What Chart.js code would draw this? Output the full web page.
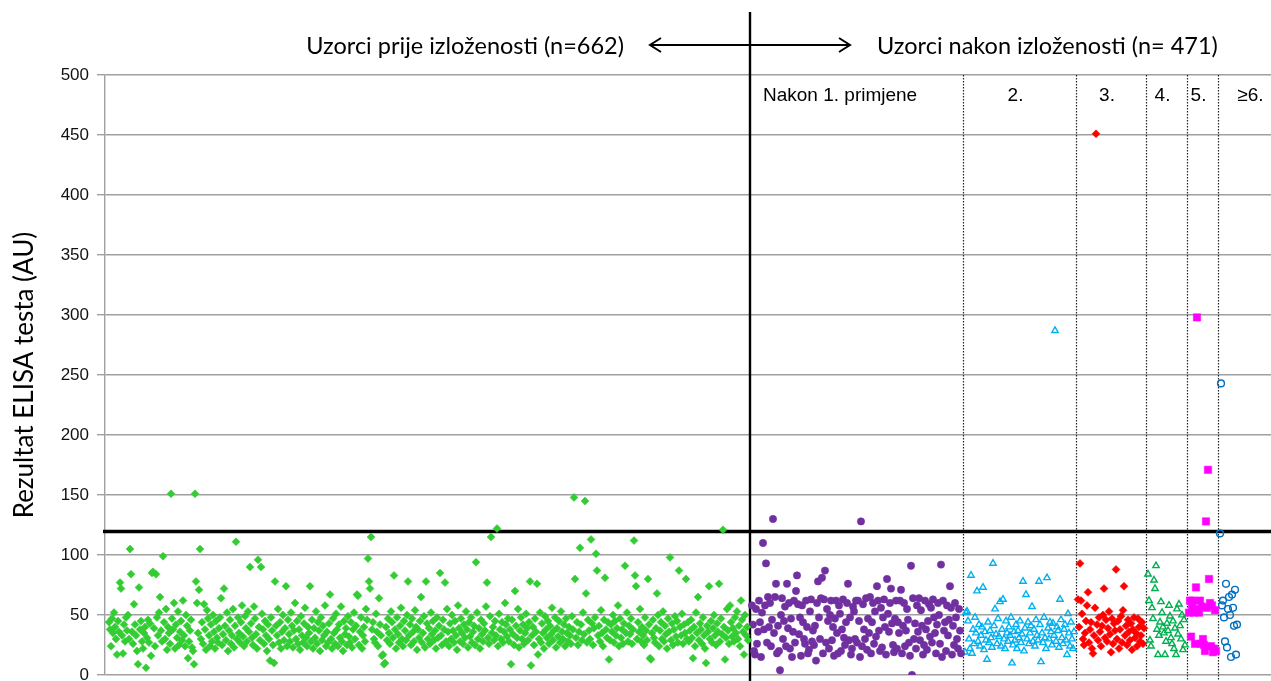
<!DOCTYPE html>
<html>
<head>
<meta charset="utf-8">
<script src="https://cdn.jsdelivr.net/npm/chart.js@4.4.1/dist/chart.umd.min.js"></script>
<style>
html, body { margin: 0; padding: 0; background: #fff; }
#wrap { width: 1271px; height: 681px; position: relative; }
</style>
</head>
<body>
<div id="wrap"><canvas id="elisaChart"></canvas></div>
<script>
// values, one array per group of samples
const preExposure = [
44, 38, 24, 47, 35, 52, 40, 30, 17, 45, 36, 77, 72, 33, 18, 42, 28, 48, 37, 50,
30, 105, 84, 36, 26, 59, 42, 33, 20, 9, 73, 38, 45, 28, 22, 35, 40, 6, 31, 46,
27, 43, 16, 85, 86, 39, 24, 84, 48, 33, 52, 65, 37, 28, 99, 44, 30, 55, 21, 40,
35, 26, 151, 47, 38, 60, 22, 42, 31, 53, 25, 36, 45, 29, 62, 33, 24, 50, 41, 14,
28, 37, 46, 23, 20, 9, 151, 78, 60, 35, 71, 105, 30, 44, 26, 59, 38, 21, 54, 47,
33, 24, 42, 28, 50, 36, 22, 45, 31, 27, 39, 48, 64, 25, 34, 72, 41, 29, 52, 20,
37, 46, 26, 33, 55, 23, 41, 111, 30, 48, 35, 27, 44, 58, 32, 24, 49, 39, 28, 53,
36, 90, 43, 31, 25, 57, 47, 34, 22, 96, 40, 29, 90, 51, 38, 26, 45, 33, 20, 42,
30, 12, 48, 37, 25, 10, 78, 41, 33, 55, 27, 44, 22, 36, 50, 29, 39, 74, 24, 46,
34, 28, 52, 41, 23, 37, 60, 30, 45, 26, 38, 21, 49, 33, 27, 43, 56, 31, 24, 40,
35, 74, 28, 46, 22, 39, 31, 53, 26, 44, 37, 20, 48, 29, 41, 33, 58, 24, 36, 27,
43, 67, 30, 22, 47, 35, 26, 51, 38, 24, 42, 31, 57, 28, 20, 45, 34, 39, 25, 49,
32, 27, 44, 23, 38, 52, 30, 41, 67, 66, 25, 36, 48, 22, 33, 40, 28, 55, 46, 97,
78, 72, 115, 38, 44, 30, 27, 51, 36, 24, 64, 42, 33, 16, 17, 9, 10, 40, 29, 47,
35, 26, 53, 44, 31, 83, 38, 22, 48, 34, 27, 41, 56, 30, 24, 45, 37, 29, 50, 78,
33, 42, 25, 47, 36, 28, 54, 40, 21, 38, 31, 45, 65, 27, 35, 49, 23, 78, 43, 30,
39, 26, 52, 34, 45, 29, 37, 22, 48, 31, 41, 85, 33, 25, 46, 38, 77, 28, 55, 36,
24, 43, 30, 50, 37, 27, 45, 33, 21, 58, 39, 28, 47, 35, 26, 42, 31, 53, 38, 23,
44, 32, 48, 27, 36, 41, 25, 94, 52, 30, 39, 22, 46, 34, 28, 43, 37, 57, 77, 31,
26, 49, 115, 35, 40, 29, 45, 33, 122, 24, 51, 38, 30, 44, 27, 36, 60, 42, 32, 47,
28, 38, 9, 46, 34, 25, 70, 41, 31, 55, 23, 37, 48, 30, 42, 26, 35, 51, 39, 29,
44, 78, 8, 33, 40, 25, 47, 36, 76, 17, 30, 52, 27, 43, 35, 22, 49, 38, 31, 45,
26, 41, 34, 56, 29, 37, 48, 23, 39, 32, 45, 27, 53, 36, 30, 42, 24, 47, 35, 28,
40, 33, 26, 49, 38, 148, 80, 31, 44, 25, 36, 106, 42, 29, 52, 34, 145, 68, 27, 46,
37, 30, 113, 43, 25, 39, 48, 101, 87, 33, 41, 28, 54, 35, 24, 46, 81, 38, 31, 44,
13, 29, 42, 36, 50, 27, 45, 33, 39, 58, 24, 47, 31, 38, 26, 43, 91, 35, 52, 28,
41, 34, 47, 26, 38, 112, 83, 74, 30, 44, 36, 55, 28, 40, 33, 25, 48, 37, 29, 80,
42, 14, 13, 35, 46, 31, 27, 39, 68, 50, 24, 37, 44, 30, 53, 28, 41, 34, 22, 47,
36, 98, 29, 43, 25, 38, 49, 32, 45, 27, 87, 40, 33, 51, 26, 42, 35, 80, 30, 44,
28, 37, 46, 31, 14, 40, 24, 52, 35, 65, 29, 43, 38, 26, 48, 33, 22, 10, 41, 36,
74, 30, 45, 27, 39, 50, 33, 25, 43, 36, 76, 28, 47, 34, 121, 40, 13, 31, 55, 37,
26, 58, 44, 32, 39, 28, 48, 35, 53, 30, 41, 24, 62, 46, 36, 17, 50, 33, 40, 29
];

const afterDose1 = [
58, 42, 20, 17, 55, 26, 36, 62, 44, 15, 52, 110, 38, 58, 93, 27, 65, 40, 60, 24, 46,
130, 35, 65, 76, 18, 41, 20, 4, 50, 64, 30, 45, 57, 24, 76, 39, 60, 22, 47, 15, 36,
62, 27, 70, 83, 59, 34, 48, 16, 58, 44, 30, 26, 62, 40, 18, 21, 53, 63, 28, 37, 25,
41, 12, 60, 78, 48, 30, 64, 81, 18, 63, 87, 27, 55, 45, 22, 50, 62, 29, 40, 16, 47,
62, 35, 18, 58, 51, 20, 38, 63, 31, 25, 44, 60, 76, 29, 48, 17, 22, 57, 53, 30, 62,
27, 62, 45, 15, 128, 24, 59, 38, 30, 64, 21, 47, 35, 65, 18, 44, 60, 26, 53, 32, 74,
62, 37, 20, 56, 23, 48, 63, 40, 17, 80, 51, 36, 60, 72, 43, 25, 19, 47, 62, 22, 44,
35, 62, 71, 18, 41, 60, 24, 37, 55, 46, 27, 16, 91, 0, 64, 30, 43, 22, 58, 36, 64,
29, 54, 41, 17, 25, 62, 38, 21, 45, 59, 32, 56, 27, 63, 48, 35, 18, 42, 60, 50, 26,
92, 15, 62, 37, 44, 20, 58, 33, 46, 74, 56, 17, 41, 25, 60, 48, 30, 22, 55, 37, 18
];

const afterDose2 = [
19, 52, 53, 45, 30, 22, 83, 18, 38, 26, 48, 35, 70, 28, 42, 24, 33, 40, 73, 21, 36, 29,
13, 44, 27, 37, 31, 23, 93, 41, 55, 34, 26, 47, 32, 61, 24, 38, 63, 30, 22, 45, 35, 28,
40, 33, 48, 10, 25, 36, 29, 42, 22, 37, 31, 45, 27, 34, 78, 20, 39, 67, 30, 44, 26, 35,
41, 57, 28, 38, 24, 46, 33, 29, 78, 42, 11, 35, 27, 48, 31, 22, 81, 39, 30, 44, 36, 25,
43, 33, 287, 28, 40, 37, 23, 63, 46, 31, 26, 38, 42, 29, 17, 51, 35, 24, 44, 30, 22, 36
];

const afterDose3 = [
63, 40, 93, 62, 51, 30, 25, 35, 45, 58, 69, 27, 38, 44, 22, 18, 33, 56, 451, 42, 29, 48,
36, 24, 41, 50, 72, 31, 46, 28, 39, 53, 34, 19, 47, 26, 43, 37, 88, 30, 45, 22, 38, 49,
27, 54, 74, 33, 41, 25, 46, 36, 29, 43, 21, 38, 48, 31, 35, 24, 47, 40, 28, 33, 44, 26, 39
];

const afterDose4 = [
84, 62, 29, 24, 56, 47, 79, 72, 91, 38, 17, 33, 44, 61, 52, 40, 35, 17, 28,
43, 37, 58, 49, 31, 26, 45, 22, 39, 17, 55, 34, 59, 41, 30, 50, 21, 46, 25
];

const afterDose5 = [
52, 62, 32, 58, 62, 52, 26, 73, 298, 55, 52, 62, 26, 57,
30, 25, 20, 128, 56, 171, 80, 60, 24, 58, 19, 22, 54, 20
];

const afterDose6plus = [
118, 243, 58, 62, 48, 28, 76, 23, 55, 65, 50, 15, 67, 56, 41, 71, 17, 42
];

const groupLabels = ['Nakon 1. primjene', '2.', '3.', '4.', '5.', '\u22656.'];
const cutoffValue = 119.5;
const yMin = 0;
const yMax = 500;
const yStep = 50;

const groups = [
  { values: preExposure, style: 'rectRot', color: '#33cc33', fill: true, radius: 4 },
  { values: afterDose1, style: 'circle', color: '#7030a0', fill: true, radius: 3.7 },
  { values: afterDose2, style: 'triangle', color: '#00b0f0', fill: false, radius: 3.7 },
  { values: afterDose3, style: 'rectRot', color: '#ff0000', fill: true, radius: 4 },
  { values: afterDose4, style: 'triangle', color: '#00b050', fill: false, radius: 3.7 },
  { values: afterDose5, style: 'rect', color: '#ff00ff', fill: true, radius: 5.2 },
  { values: afterDose6plus, style: 'circle', color: '#0070c0', fill: false, radius: 3.4 }
];

// samples are placed one after another, with a small gap between groups
const gap = 4;
let dividers = [];
let next = 1;
let datasets = groups.map(function (g, gi) {
  let pts = g.values.map(function (v, i) { return { x: next + i, y: v }; });
  next += g.values.length - 1;
  if (gi < groups.length - 1) dividers.push(next + gap / 2);
  next += gap;
  return {
    data: pts,
    pointStyle: g.style,
    pointRadius: g.radius,
    backgroundColor: g.fill ? g.color : 'rgba(0,0,0,0)',
    borderColor: g.color,
    borderWidth: g.fill ? 0.5 : 1.4,
    showLine: false
  };
});

const annotations = {
  id: 'annotations',
  beforeDatasetsDraw(chart) {
    const c = chart.ctx;
    const xs = chart.scales.x;
    const ys = chart.scales.y;
    const area = chart.chartArea;
    c.save();
    // dotted lines between the dose groups
    c.strokeStyle = '#222';
    c.lineWidth = 1.2;
    c.setLineDash([1.5, 1.5]);
    for (let i = 1; i < dividers.length; i++) {
      const px = Math.round(xs.getPixelForValue(dividers[i])) + 0.5;
      c.beginPath();
      c.moveTo(px, area.top);
      c.lineTo(px, area.bottom + 6);
      c.stroke();
    }
    c.setLineDash([]);
    // cut-off line
    const cy = ys.getPixelForValue(cutoffValue);
    c.strokeStyle = '#000';
    c.lineWidth = 3.5;
    c.beginPath();
    c.moveTo(area.left - 2, cy);
    c.lineTo(area.right, cy);
    c.stroke();
    // before / after split
    const sx = xs.getPixelForValue(dividers[0]);
    c.lineWidth = 2.4;
    c.beginPath();
    c.moveTo(sx, 12);
    c.lineTo(sx, chart.height);
    c.stroke();
    c.restore();
  },
  afterDraw(chart) {
    const c = chart.ctx;
    const xs = chart.scales.x;
    const area = chart.chartArea;
    const sx = xs.getPixelForValue(dividers[0]);
    c.save();
    c.fillStyle = '#000';
    c.strokeStyle = '#000';
    // double arrow over the split line
    const ay = 45;
    const half = 100;
    c.lineWidth = 2;
    c.beginPath();
    c.moveTo(sx - half, ay);
    c.lineTo(sx + half, ay);
    c.moveTo(sx - half + 11, ay - 7);
    c.lineTo(sx - half, ay);
    c.lineTo(sx - half + 11, ay + 7);
    c.moveTo(sx + half - 11, ay - 7);
    c.lineTo(sx + half, ay);
    c.lineTo(sx + half - 11, ay + 7);
    c.stroke();

    c.font = '23.5px Lato';
    c.textBaseline = 'middle';
    c.textAlign = 'right';
    c.fillText('Uzorci prije izlo\u017eenosti (n=662)', sx - half - 26, ay + 1);
    c.textAlign = 'left';
    c.fillText('Uzorci nakon izlo\u017eenosti (n= 471)', sx + half + 27, ay + 1);

    // dose group labels
    c.font = '19px "Liberation Sans", Arial, sans-serif';
    const ly = area.top + 21;
    const edges = dividers.concat([xs.max + 20]).map(function (d) { return xs.getPixelForValue(d); });
    groupLabels.forEach(function (lab, i) {
      if (i === 0) {
        c.textAlign = 'left';
        c.fillText(lab, edges[0] + 13, ly);
      } else {
        c.textAlign = 'center';
        c.fillText(lab, (edges[i] + edges[i + 1]) / 2 - 4, ly);
      }
    });
    c.restore();
  }
};

let ctx = document.getElementById('elisaChart').getContext('2d');

let elisaChart = new Chart(ctx, {
  type: 'scatter',
  data: { datasets: datasets },
  options: {
    responsive: true,
    maintainAspectRatio: false,
    animation: false,
    layout: { autoPadding: false, padding: { top: 75, right: 0, bottom: 0, left: 0 } },
    plugins: {
      legend: { display: false },
      tooltip: { enabled: false }
    },
    scales: {
      x: {
        type: 'linear',
        display: false,
        min: -3,
        max: 1163
      },
      y: {
        min: yMin,
        max: yMax,
        ticks: {
          stepSize: yStep,
          padding: 8,
          color: '#111',
          font: { family: '"Liberation Sans", Arial, sans-serif', size: 17 }
        },
        grid: {
          color: '#a0a0a0',
          lineWidth: 1.4,
          tickLength: 8
        },
        border: { color: '#a0a0a0', width: 1.4 },
        title: {
          display: true,
          text: 'Rezultat ELISA testa (AU)',
          color: '#000',
          font: { family: 'Lato', size: 26 },
          padding: { top: 9, bottom: 0 }
        },
        afterFit(scale) {
          scale.width = 105;
          scale.paddingTop = 0;
          scale.paddingBottom = 6;
        }
      }
    }
  },
  plugins: [annotations]
});
</script>
</body>
</html>
